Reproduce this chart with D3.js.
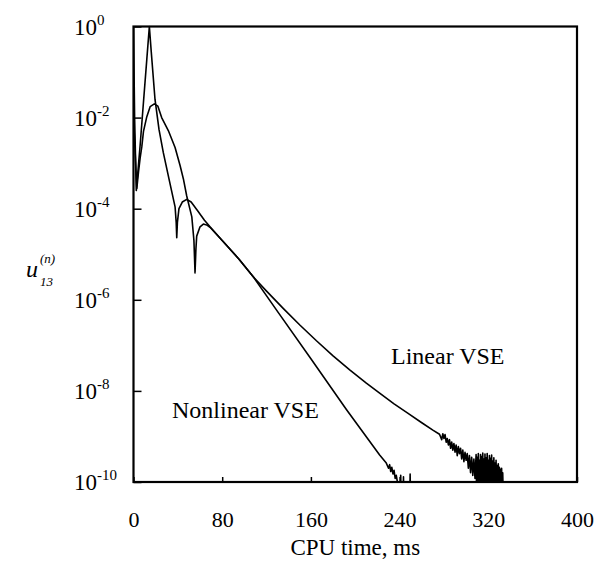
<!DOCTYPE html>
<html>
<head>
<meta charset="utf-8">
<script src="https://cdn.jsdelivr.net/npm/d3@7"></script>
<style>
  html, body { margin: 0; padding: 0; background: #fff; }
  svg { display: block; }
  text { font-family: "Liberation Serif", "Times New Roman", serif; fill: #000; }
</style>
</head>
<body>
<svg id="chart" width="607" height="571"></svg>
<script>
// ---------- data ----------
const xTicks = [0, 80, 160, 240, 320, 400];
const yTickExps = [0, -2, -4, -6, -8, -10];
const seriesNames = ["Nonlinear VSE", "Linear VSE"];

// Nonlinear VSE: CPU time (ms) and u13
const nonlinearT = [0, 1, 2.5, 6, 9, 12, 14.3, 16, 19.4, 23, 26.9, 32, 37.5, 38.5, 39, 39.6, 41, 44, 48, 52, 58, 64, 69, 80, 95, 108, 130, 160, 192, 222, 228, 230, 231, 232, 233, 234, 235, 236, 237, 238, 239, 240, 241, 241.5, 243, 243.5, 244, 249, 249.5, 250, 252];
const nonlinearU = [1.0, 1.0e-2, 2.5e-4, 2.5e-3, 2.2e-2, 0.19, 1.0, 0.28, 2.5e-2, 5.5e-3, 1.7e-3, 4.5e-4, 1.1e-4, 5.0e-5, 2.3e-5, 5.0e-5, 1.0e-4, 1.4e-4, 1.6e-4, 1.4e-4, 8.9e-5, 5.6e-5, 4.0e-5, 2.0e-5, 7.9e-6, 3.2e-6, 5.5e-7, 5.1e-8, 3.9e-9, 3.9e-10, 2.6e-10, 2.0e-10, 2.4e-10, 1.7e-10, 2.1e-10, 1.5e-10, 1.8e-10, 1.2e-10, 1.4e-10, 1.0e-10, 5e-11, 3e-11, 1.4e-10, 3e-11, 3e-11, 1.3e-10, 3e-11, 3e-11, 1.5e-10, 3e-11, 3e-11];

// Linear VSE: CPU time (ms) and u13
const linearT = [0, 3, 4.5, 6, 7.5, 9, 12, 15, 18.8, 22, 25.4, 31.4, 37.5, 42, 45, 48, 52.6, 54.5, 55.5, 56.3, 57, 60, 63, 66, 69, 80, 95, 108, 120, 135, 150, 165, 180, 195, 210, 222, 235, 247, 260, 270, 276,
  278, 279, 280, 281, 282, 283, 284, 285, 286, 287, 288, 289, 290, 291, 292, 293, 294, 295, 296, 297, 298, 299, 300, 301, 302, 303, 304, 305, 306, 307, 308, 309,
  309.5, 310, 310.5, 311, 311.5, 312, 312.5, 313, 313.5, 314, 314.5, 315, 315.5, 316, 316.5, 317, 317.5, 318, 318.5, 319, 319.5, 320, 320.5, 321, 321.5, 322, 322.5, 323, 323.5, 324, 324.5, 325, 325.5, 326, 326.5, 327, 327.5, 328, 328.5, 329, 329.5, 330, 330.5, 331, 331.5, 332, 332.5, 333, 333.5];
const linearU = [1.0e-2, 2.8e-4, 6.3e-4, 1.3e-3, 2.3e-3, 5.0e-3, 1.05e-2, 1.74e-2, 2.0e-2, 1.78e-2, 1.0e-2, 5.2e-3, 2.2e-3, 8.9e-4, 4.5e-4, 1.9e-4, 6.6e-5, 2.0e-5, 3.9e-6, 1.3e-5, 2.5e-5, 4.0e-5, 4.6e-5, 4.4e-5, 3.9e-5, 2.0e-5, 7.9e-6, 3.2e-6, 1.55e-6, 6.5e-7, 2.8e-7, 1.26e-7, 5.9e-8, 2.9e-8, 1.48e-8, 8.9e-9, 5.2e-9, 3.3e-9, 2.0e-9, 1.38e-9, 1.12e-9,
  8.5e-10, 1.15e-9, 9e-10, 1.1e-9, 7.5e-10, 9e-10, 6.5e-10, 8.5e-10, 5.5e-10, 7.5e-10, 5e-10, 7e-10, 4.5e-10, 6.5e-10, 3.8e-10, 6e-10, 4.2e-10, 5.5e-10, 3.2e-10, 5e-10, 2.8e-10, 4.5e-10, 3e-10, 4.2e-10, 2e-10, 3.8e-10, 1.6e-10, 3.5e-10, 1.4e-10, 3.2e-10, 1.2e-10, 4e-10,
  5e-11, 3.5e-10, 5e-11, 4.2e-10, 5e-11, 3e-10, 5e-11, 4e-10, 5e-11, 3.6e-10, 5e-11, 4.3e-10, 5e-11, 3.2e-10, 5e-11, 4.1e-10, 5e-11, 3.4e-10, 5e-11, 4.2e-10, 5e-11, 3e-10, 5e-11, 3.8e-10, 5e-11, 3.3e-10, 5e-11, 3.9e-10, 5e-11, 2.9e-10, 5e-11, 3.4e-10, 5e-11, 2.6e-10, 5e-11, 3e-10, 5e-11, 2.3e-10, 5e-11, 2.5e-10, 5e-11, 2.1e-10, 5e-11, 1.9e-10, 5e-11, 2e-10, 5e-11, 1.6e-10, 5e-11, 1.4e-10, 5e-11, 1.2e-10, 5e-11];

// ---------- layout ----------
const svg = d3.select("#chart");
const mLeft = 133.5, mRight = 577, mTop = 26.5, mBottom = 482;

const x = d3.scaleLinear().domain([0, 400]).range([mLeft, mRight]);
const y = d3.scaleLog().domain([1e-10, 1]).range([mBottom, mTop]);

svg.append("defs").append("clipPath").attr("id", "plotclip")
  .append("rect").attr("x", mLeft).attr("y", mTop - 1)
  .attr("width", mRight - mLeft).attr("height", mBottom - mTop + 1);

// curves
const line = d3.line().x(d => x(d[0])).y(d => y(d[1]));
const series = [
  d3.zip(nonlinearT, nonlinearU),
  d3.zip(linearT, linearU)
];
svg.append("g").attr("clip-path", "url(#plotclip)")
  .selectAll("path").data(series).join("path")
  .attr("d", line)
  .attr("fill", "none")
  .attr("stroke", "#000")
  .attr("stroke-width", 1.6)
  .attr("stroke-linejoin", "round");

// axes (inward ticks)
svg.append("g").attr("transform", `translate(${mLeft},0)`)
  .call(d3.axisLeft(y).tickValues(yTickExps.map(e => Math.pow(10, e))).tickSize(-8).tickFormat(""))
  .call(g => g.select(".domain").remove())
  .selectAll("line").attr("stroke", "#000").attr("stroke-width", 1.5);

svg.append("g").attr("transform", `translate(0,${mBottom})`)
  .call(d3.axisBottom(x).tickValues(xTicks).tickSize(-5).tickPadding(29)
    .tickFormat(d => String(d)))
  .call(g => g.select(".domain").remove())
  .call(g => g.selectAll("line").attr("stroke", "#000").attr("stroke-width", 1.5))
  .call(g => g.selectAll("text").attr("font-size", 22)
    .attr("font-family", "Liberation Serif, serif").attr("fill", "#000"));

// frame
svg.append("rect").attr("x", mLeft).attr("y", mTop)
  .attr("width", mRight - mLeft).attr("height", mBottom - mTop)
  .attr("fill", "none").attr("stroke", "#000").attr("stroke-width", 2.2);

// y tick labels: 10^e
const yl = svg.append("g").selectAll("text").data(yTickExps).join("text")
  .attr("x", 74)
  .attr("y", e => y(Math.pow(10, e)) + 8)
  .attr("font-size", 23);
yl.append("tspan").text("10");
yl.append("tspan").attr("font-size", 15).attr("dy", -10).text(e => String(e));

// y axis title: u_13^(n)
const yt = svg.append("g");
yt.append("text").attr("x", 26).attr("y", 277).attr("font-size", 24)
  .attr("font-style", "italic").text("u");
yt.append("text").attr("x", 40).attr("y", 263).attr("font-size", 13)
  .attr("font-style", "italic").text("(n)");
yt.append("text").attr("x", 40).attr("y", 286).attr("font-size", 13)
  .attr("font-style", "italic").text("13");

// x axis title
svg.append("text").attr("x", (mLeft + mRight) / 2).attr("y", 555)
  .attr("text-anchor", "middle").attr("font-size", 23).text("CPU time, ms");

// series labels
svg.append("text").attr("x", 391).attr("y", 364).attr("font-size", 24).text(seriesNames[1]);
svg.append("text").attr("x", 172).attr("y", 418).attr("font-size", 24).text(seriesNames[0]);
</script>
</body>
</html>
